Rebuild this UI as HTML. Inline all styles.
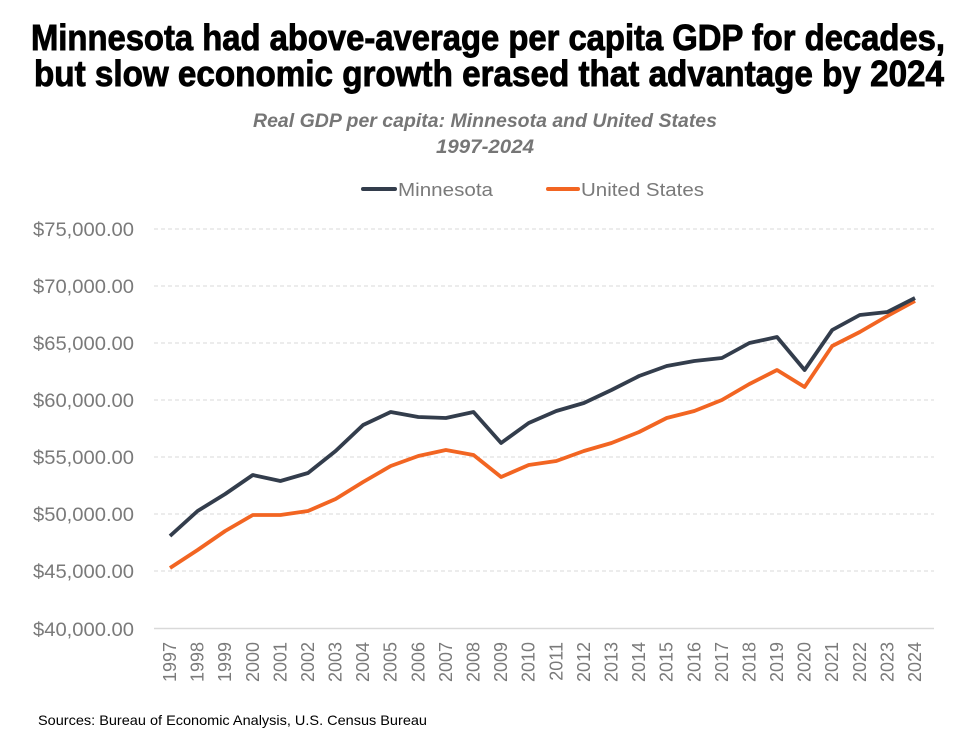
<!DOCTYPE html>
<html><head><meta charset="utf-8"><style>
html,body{margin:0;padding:0;background:#fff;}
svg{display:block;}
</style></head><body>
<svg width="976" height="748" viewBox="0 0 976 748" xmlns="http://www.w3.org/2000/svg">
<g font-family="'Liberation Sans Narrow','Liberation Sans',sans-serif" font-weight="bold" fill="#000" stroke="#000" stroke-width="0.9" font-size="36" text-anchor="middle">
<text x="488" y="50" textLength="914" lengthAdjust="spacingAndGlyphs">Minnesota had above-average per capita GDP for decades,</text>
<text x="489" y="86" textLength="910" lengthAdjust="spacingAndGlyphs">but slow economic growth erased that advantage by 2024</text>
</g>
<g font-family="'Liberation Sans Narrow','Liberation Sans',sans-serif" font-weight="bold" font-style="italic" fill="#767676" font-size="19" text-anchor="middle">
<text x="485" y="127" textLength="464" lengthAdjust="spacingAndGlyphs">Real GDP per capita: Minnesota and United States</text>
<text x="485" y="153" textLength="98" lengthAdjust="spacingAndGlyphs">1997-2024</text>
</g>
<g font-family="'Liberation Sans',sans-serif" font-size="18" fill="#7a7a7a">
<line x1="363" y1="189" x2="395" y2="189" stroke="#333d4c" stroke-width="4" stroke-linecap="round"/>
<text x="398" y="196" textLength="95" lengthAdjust="spacingAndGlyphs">Minnesota</text>
<line x1="548" y1="189" x2="578" y2="189" stroke="#f26522" stroke-width="4" stroke-linecap="round"/>
<text x="581" y="196" textLength="123" lengthAdjust="spacingAndGlyphs">United States</text>
</g>
<g stroke="#d9d9d9" stroke-width="1" stroke-dasharray="4,3">
<line x1="154" y1="229" x2="934" y2="229"/>
<line x1="154" y1="286" x2="934" y2="286"/>
<line x1="154" y1="343" x2="934" y2="343"/>
<line x1="154" y1="400" x2="934" y2="400"/>
<line x1="154" y1="457" x2="934" y2="457"/>
<line x1="154" y1="514" x2="934" y2="514"/>
<line x1="154" y1="571" x2="934" y2="571"/>
</g>
<line x1="154" y1="628.5" x2="934" y2="628.5" stroke="#d9d9d9" stroke-width="1.5"/>
<g font-family="'Liberation Sans',sans-serif" font-size="19" fill="#7a7a7a" text-anchor="end">
<text x="134" y="236" textLength="101" lengthAdjust="spacingAndGlyphs">$75,000.00</text>
<text x="134" y="293" textLength="101" lengthAdjust="spacingAndGlyphs">$70,000.00</text>
<text x="134" y="350" textLength="101" lengthAdjust="spacingAndGlyphs">$65,000.00</text>
<text x="134" y="407" textLength="101" lengthAdjust="spacingAndGlyphs">$60,000.00</text>
<text x="134" y="464" textLength="101" lengthAdjust="spacingAndGlyphs">$55,000.00</text>
<text x="134" y="521" textLength="101" lengthAdjust="spacingAndGlyphs">$50,000.00</text>
<text x="134" y="578" textLength="101" lengthAdjust="spacingAndGlyphs">$45,000.00</text>
<text x="134" y="636" textLength="101" lengthAdjust="spacingAndGlyphs">$40,000.00</text>
</g>
<g font-family="'Liberation Sans',sans-serif" font-size="18" fill="#7a7a7a" text-anchor="end" id="yrs"></g>
<polyline fill="none" stroke="#f26522" stroke-width="3.8" stroke-linejoin="round" id="us"/>
<polyline fill="none" stroke="#333d4c" stroke-width="3.8" stroke-linejoin="round" id="mn"/>
<text x="38" y="725" font-family="'Liberation Sans',sans-serif" font-size="14" fill="#000" textLength="389" lengthAdjust="spacingAndGlyphs">Sources: Bureau of Economic Analysis, U.S. Census Bureau</text>
</svg>
<script>
var mn=[536,511,494,475,481,473,451,425,412,417,418,412,443,423,411,403,390,376,366,361,358,343,337,370,330,315,312,298];
var us=[568,550,531,515,515,511,499,482,466,456,450,455,477,465,461,451,443,432,418,411,400,384,370,387,346,332,316,301];
var x0=170,dx=(915-170)/27;
function pts(a){return a.map(function(y,i){return (x0+i*dx).toFixed(1)+','+y}).join(' ')}
document.getElementById('mn').setAttribute('points',pts(mn));
document.getElementById('us').setAttribute('points',pts(us));
var g=document.getElementById('yrs'),h='';
for(var i=0;i<28;i++){var x=x0+i*dx+6;h+='<text transform="translate('+x.toFixed(1)+',642) rotate(-90)">'+(1997+i)+'</text>';}
g.innerHTML=h;
</script>
</body></html>
